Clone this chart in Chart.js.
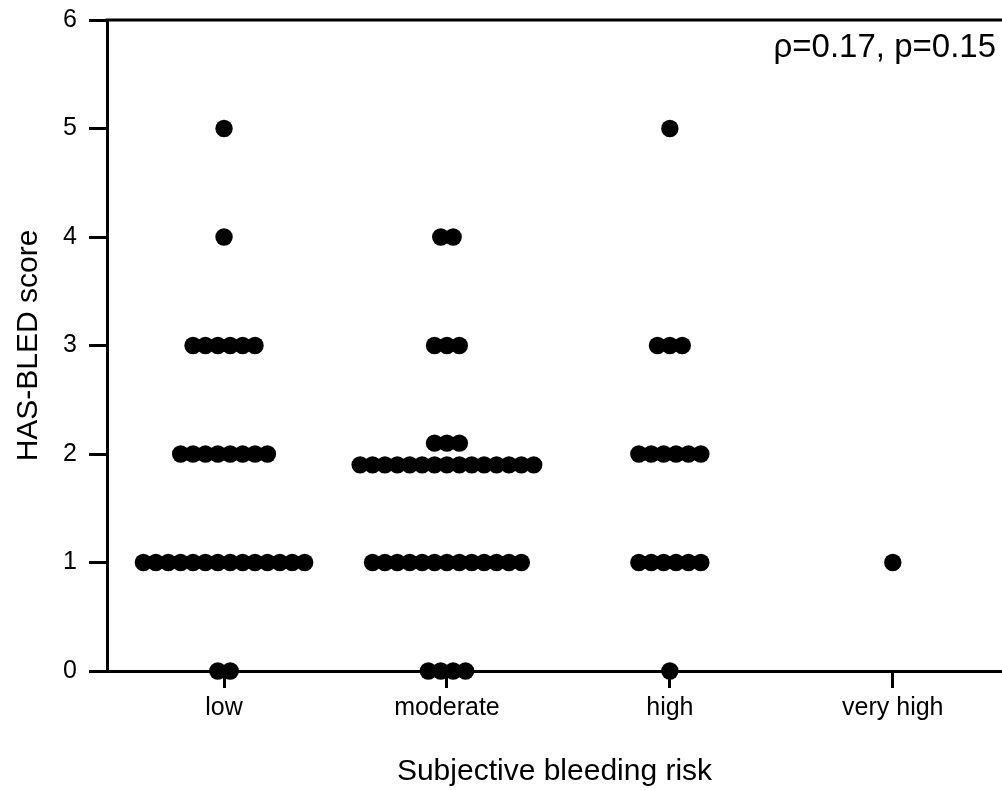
<!DOCTYPE html>
<html><head><meta charset="utf-8">
<script src="https://cdn.jsdelivr.net/npm/chart.js@4"></script>
<style>html,body{margin:0;padding:0;background:#fff}</style></head>
<body><canvas id="c" width="1002" height="790"></canvas>
<script>
// ---- data ----
const categories = ['low', 'moderate', 'high', 'very high'];
const scoreLevels = [0, 1, 2, 3, 4, 5];
const countsLow      = [2, 14, 8, 6, 1, 1];
const countsModerate = [4, 13, 18, 3, 2, 0];
const countsHigh     = [1, 6, 6, 3, 0, 1];
const countsVeryHigh = [0, 1, 0, 0, 0, 0];
const yTicks = [0, 1, 2, 3, 4, 5, 6];
const annotationText = 'ρ=0.17, p=0.15';

// ---- beeswarm layout ----
const MAXROW = 15;
const SP = 12.4 / 222.9; // dot spacing in x units
const pts = [];
[countsLow, countsModerate, countsHigh, countsVeryHigh].forEach((counts, ci) => {
  counts.forEach((n, si) => {
    const rows = n > MAXROW ? [[MAXROW, -0.1], [n - MAXROW, 0.1]] : [[n, 0]];
    rows.forEach(([m, dy]) => {
      for (let j = 0; j < m; j++) pts.push({x: ci + (j - (m - 1) / 2) * SP, y: scoreLevels[si] + dy});
    });
  });
});

const FONT = 'Liberation Sans';
const topLine = {
  id: 'topLine',
  afterDraw(chart) {
    const {ctx, chartArea: a} = chart;
    ctx.save();
    ctx.strokeStyle = '#000'; ctx.lineWidth = 3;
    ctx.beginPath(); ctx.moveTo(a.left - 1.5, a.top); ctx.lineTo(a.right, a.top); ctx.stroke();
    ctx.fillStyle = '#000'; ctx.font = '33px "' + FONT + '"';
    ctx.textAlign = 'right'; ctx.textBaseline = 'alphabetic';
    ctx.fillText(annotationText, 996, 57);
    ctx.restore();
  }
};

new Chart(document.getElementById('c'), {
  type: 'scatter',
  data: {datasets: [{data: pts, backgroundColor: '#000', borderColor: '#000', pointRadius: 8.7,
    pointHoverRadius: 8.7, borderWidth: 0, clip: false}]},
  options: {
    responsive: false, animation: false, events: [],
    layout: {autoPadding: false, padding: {top: 20, right: 0, left: 0, bottom: 0}},
    plugins: {legend: {display: false}, tooltip: {enabled: false}},
    scales: {
      x: {
        type: 'linear', min: -0.525, max: 3.49,
        afterBuildTicks: s => { s.ticks = categories.map((c, i) => ({value: i})); },
        ticks: {callback: v => categories[v], font: {family: FONT, size: 25}, color: '#000', padding: 5,
          maxRotation: 0, autoSkip: false},
        grid: {display: true, drawOnChartArea: false, drawTicks: true, tickLength: 17, tickWidth: 3, tickColor: '#000'},
        border: {display: true, color: '#000', width: 3},
        title: {display: true, text: 'Subjective bleeding risk', font: {family: FONT, size: 30}, color: '#000',
          padding: {top: 0, bottom: 0}},
        afterFit: s => { s.height = 119; s.paddingLeft = 0; s.paddingRight = 0; }
      },
      y: {
        min: 0, max: 6,
        afterBuildTicks: s => { s.ticks = yTicks.map(v => ({value: v})); },
        ticks: {font: {family: FONT, size: 25}, color: '#000', padding: 12},
        grid: {display: true, drawOnChartArea: false, drawTicks: true, tickLength: 18, tickWidth: 3, tickColor: '#000'},
        border: {display: true, color: '#000', width: 3},
        title: {display: true, text: 'HAS-BLED score', font: {family: FONT, size: 30}, color: '#000',
          padding: {top: 11, bottom: 0}},
        afterFit: s => { s.width = 107; s.paddingTop = 0; s.paddingBottom = 0; }
      }
    }
  },
  plugins: [topLine]
});
</script>
</body></html>
